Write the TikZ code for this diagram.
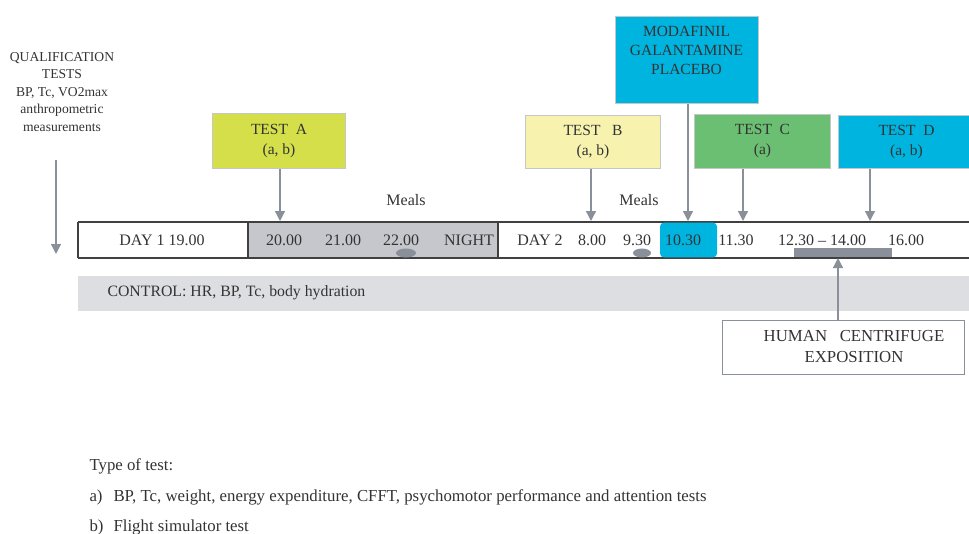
\documentclass[tikz,border=0pt]{standalone}
\usepackage{fontspec}
\setmainfont{Liberation Serif}
\usetikzlibrary{arrows.meta}
\definecolor{txt}{HTML}{333333}
\definecolor{arr}{HTML}{8A9099}
\definecolor{bord}{HTML}{C4C6C8}
\definecolor{nightgrey}{HTML}{C5C7CC}
\definecolor{ctrl}{HTML}{DCDEE2}
\definecolor{cyanbox}{HTML}{00B4E0}
\definecolor{limebox}{HTML}{D4DF4A}
\definecolor{paleyel}{HTML}{F7F3AE}
\definecolor{greenbox}{HTML}{6BBF72}
\tikzset{
  every node/.style={text=txt},
  f16/.style={font=\fontsize{15.8}{18}\selectfont},
  testbox/.style={draw=bord, line width=1pt, inner sep=0pt, anchor=north west,
     align=center, font=\fontsize{15.5}{20}\selectfont},
  tl/.style={font=\fontsize{16}{18}\selectfont, anchor=center},
  leg/.style={anchor=west, font=\fontsize{16.8}{18}\selectfont},
  garrow/.style={draw=arr, line width=1.3pt, -{Triangle[width=10pt,length=10pt]}},
  tline/.style={draw=black!75, line width=1.2pt},
}
\begin{document}
\begin{tikzpicture}[x=1pt,y=-1pt]
\useasboundingbox (0,0) rectangle (969,533);
% timeline
\fill[nightgrey] (248,222) rectangle (498,258);
\draw[tline] (78,222) -- (969,222);
\draw[tline] (78,258) -- (969,258);
\draw[tline] (78,222) -- (78,258);
\draw[tline] (248,222) -- (248,258);
\draw[tline] (498,222) -- (498,258);
\fill[cyanbox, rounded corners=4pt] (660,222.6) rectangle (717,257.4);
\fill[arr] (406,253) ellipse (10pt and 4.5pt);
\fill[arr] (642,253) ellipse (9pt and 4.5pt);
\fill[arr] (794,248) rectangle (892,257.4);
% control band
\fill[ctrl] (78,276) rectangle (969,311);
\node[f16, anchor=west] (ctrltxt) at (104,293) {CONTROL: HR, BP, Tc, body hydration};
% timeline labels
\node[tl] (d1) at (162,240) {DAY 1 19.00};
\node[tl] (t20) at (284,240) {20.00};
\node[tl] (t21) at (343,240) {21.00};
\node[tl] (t22) at (401,240) {22.00};
\node[tl] (night) at (469,240) {NIGHT};
\node[tl] (d2) at (540,240) {DAY 2};
\node[tl] (t8) at (592,240) {8.00};
\node[tl] (t930) at (637,240) {9.30};
\node[tl] (t1030) at (683,240) {10.30};
\node[tl] (t1130) at (736,240) {11.30};
\node[tl] (t1230) at (822,240) {12.30 -- 14.00};
\node[tl] (t16) at (906,240) {16.00};
\node[tl] (meals1) at (406,200) {Meals};
\node[tl] (meals2) at (639,200) {Meals};
% qualification
\node[align=center, font=\fontsize{13.6}{17.4}\selectfont, anchor=north] (qual) at (62,49)
  {QUALIFICATION\\TESTS\\BP, Tc, VO2max\\anthropometric\\measurements};
\coordinate (qs) at (56,160);
\coordinate (qe) at (56,254);
\draw[garrow] (qs) -- (qe);
% test boxes
\node[testbox, fill=limebox, minimum width=133pt, minimum height=55pt] (ta) at (212,113) {TEST\ \ A\\(a, b)};
\node[testbox, fill=paleyel, minimum width=135pt, minimum height=53pt] (tb) at (525,115) {TEST\ \ \ B\\(a, b)};
\node[testbox, fill=cyanbox, minimum width=143pt, minimum height=87pt] (mod) at (615,16) {};
\node[align=center, font=\fontsize{15.5}{19}\selectfont, anchor=north] (modtxt) at (686.5,23) {MODAFINIL\\GALANTAMINE\\PLACEBO};
\node[testbox, fill=greenbox, minimum width=136pt, minimum height=54pt] (tc) at (694,114) {TEST\ \ C\\(a)};
\node[testbox, fill=cyanbox, minimum width=136pt, minimum height=53pt] (td) at (838,115) {TEST\ \ D\\(a, b)};
\coordinate (pa) at (280,221);
\coordinate (pb) at (591,221);
\coordinate (pm) at (688,221);
\coordinate (pc) at (743,221);
\coordinate (pd) at (870,221);
\draw[garrow] (ta.south -| pa) -- (pa);
\draw[garrow] (tb.south -| pb) -- (pb);
\draw[garrow] (mod.south -| pm) -- (pm);
\draw[garrow] (tc.south -| pc) -- (pc);
\draw[garrow] (td.south -| pd) -- (pd);
% centrifuge
\node[draw=arr, line width=0.8pt, minimum width=242pt, minimum height=54pt, anchor=north west, inner sep=0pt] (hc) at (722,320) {};
\node[align=center, font=\fontsize{16.8}{21}\selectfont] (hctxt) at (854,347) {HUMAN\ \ \ CENTRIFUGE\\EXPOSITION};
\coordinate (hce) at (838,258);
\draw[garrow] (hc.north -| hce) -- (hce);
% legend
\node[leg] (lg) at (86,466) {Type of test:};
\node[leg] (la) at (86,497) {a)};
\node[leg] (lat) at (110,497) {BP, Tc, weight, energy expenditure, CFFT, psychomotor performance and attention tests};
\node[leg] (lb) at (86,527) {b)};
\node[leg] (lbt) at (110,527) {Flight simulator test};
\end{tikzpicture}
\end{document}
